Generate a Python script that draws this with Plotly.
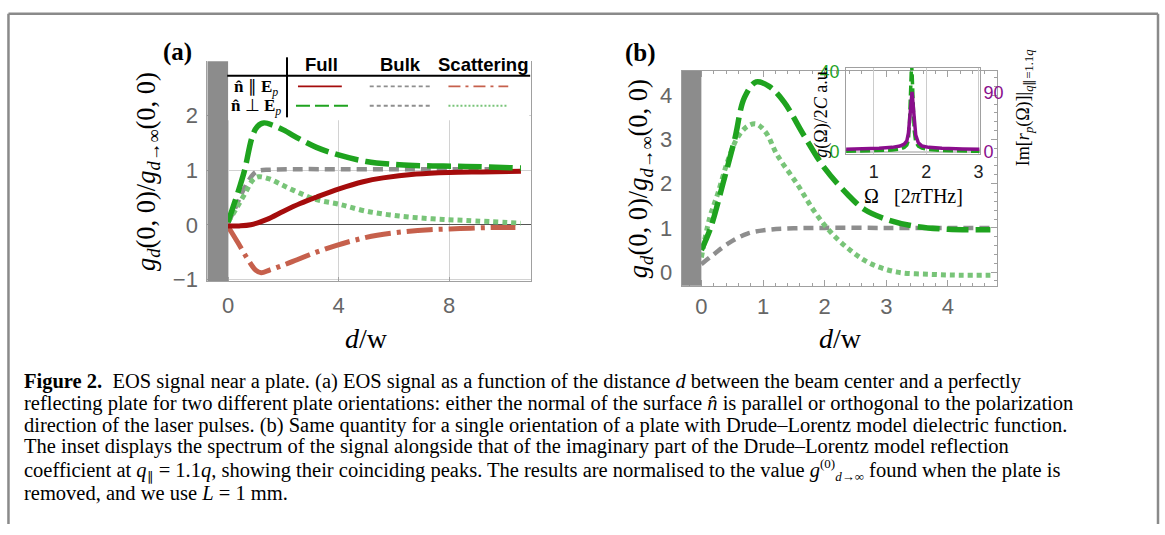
import plotly.graph_objects as go

W, H = 1165, 535
def px(x): return x / W
def py(y): return 1 - y / H

# ---------------- data: panel (a) ----------------
a_full_par_x = [0, 0.4, 0.82, 1.41, 2.01, 2.61, 3.21, 4.02, 4.89, 5.61, 6.81, 8.0, 9.2, 10.6]
a_full_par_y = [-0.02, -0.02, 0.0, 0.10, 0.25, 0.39, 0.51, 0.66, 0.79, 0.86, 0.93, 0.96, 0.97, 0.98]

a_full_perp_x = [0, 0.2, 0.4, 0.6, 0.88, 1.06, 1.3, 1.6, 2.0, 2.6, 3.2, 4.0, 5.0, 6.2, 7.4, 8.6, 10.6]
a_full_perp_y = [0.05, 0.35, 0.66, 1.0, 1.62, 1.80, 1.87, 1.83, 1.74, 1.57, 1.42, 1.28, 1.16, 1.10, 1.08, 1.07, 1.04]

a_bulk_x = [0, 0.3, 0.6, 0.9, 1.1, 1.5, 2.5, 4.0, 6.0, 8.0, 10.3]
a_bulk_y = [0.03, 0.35, 0.68, 0.92, 0.99, 1.01, 1.02, 1.02, 1.02, 1.02, 1.02]

a_scat_par_x = [0, 0.35, 0.7, 1.0, 1.2, 1.5, 2.0, 2.5, 3.2, 3.9, 4.6, 5.4, 6.3, 7.3, 8.4, 9.5, 10.4]
a_scat_par_y = [-0.03, -0.32, -0.62, -0.83, -0.88, -0.83, -0.74, -0.64, -0.50, -0.38, -0.28, -0.19, -0.13, -0.09, -0.07, -0.05, -0.05]

a_scat_perp_x = [0, 0.3, 0.6, 0.9, 1.1, 1.5, 2.0, 2.6, 3.2, 4.0, 5.0, 6.2, 7.4, 8.6, 10.6]
a_scat_perp_y = [0.05, 0.30, 0.56, 0.82, 0.88, 0.84, 0.72, 0.58, 0.46, 0.38, 0.25, 0.16, 0.11, 0.08, 0.03]

# ---------------- data: panel (b) ----------------
b_full_x = [0, 0.15, 0.35, 0.54, 0.70, 0.89, 1.1, 1.34, 1.66, 2.0, 2.37, 2.64, 2.99, 3.45, 4.0, 4.69]
b_full_y = [0.5, 1.0, 2.0, 3.0, 3.95, 4.3, 4.2, 3.85, 3.1, 2.35, 1.76, 1.42, 1.2, 1.04, 0.97, 0.96]

b_scat_x = [0, 0.13, 0.27, 0.43, 0.59, 0.75, 0.89, 1.05, 1.23, 1.56, 1.83, 2.1, 2.42, 2.75, 3.18, 3.72, 4.2, 4.69]
b_scat_y = [0.33, 1.2, 1.79, 2.52, 3.05, 3.3, 3.35, 3.15, 2.65, 1.98, 1.38, 0.9, 0.49, 0.19, 0.0, -0.05, -0.07, -0.07]

b_bulk_x = [0, 0.2, 0.45, 0.75, 1.1, 1.5, 2.0, 3.0, 4.0, 4.69]
b_bulk_y = [0.18, 0.40, 0.66, 0.87, 0.96, 0.99, 1.0, 1.0, 1.0, 1.0]

# ---------------- data: inset ----------------
inset_omega = [0.47, 0.8, 1.1, 1.35, 1.5, 1.58, 1.63, 1.66, 1.68, 1.70, 1.72, 1.73, 1.75, 1.77, 1.80, 1.85, 1.92, 2.05, 2.3, 2.7, 3.02]
inset_g = [0.4, 0.5, 0.7, 1.0, 1.5, 2.3, 3.5, 6, 14, 30, 44, 40, 24, 11, 5, 3, 2, 1.3, 0.8, 0.5, 0.4]
inset_im = [3, 3.5, 4.5, 6, 8, 11, 16, 28, 45, 72, 90, 92, 72, 45, 25, 13, 8, 6, 4.5, 3.5, 3]

# tick labels
a_xticks = [0, 4, 8]
a_yticks = [-1, 0, 1, 2]
a_yticktext = ["−1", "0", "1", "2"]
b_xticks = [0, 1, 2, 3, 4]
b_yticks = [0, 1, 2, 3, 4]
in_xticks = [1, 2, 3]
in_lyticks = [0, 40]
in_ryticks = [0, 90]

# colours
RED = "#a50c0c"
GREEN = "#1fa31f"
GRAY = "#8e8e8e"
SALMON = "#c6604c"
LGREEN = "#78c478"
PURPLE = "#8a0e8c"
BAR = "#8c8c8c"

fig = go.Figure()

def add(x, y, color, width, dash, xa, ya, shape="spline"):
    fig.add_trace(go.Scatter(x=x, y=y, mode="lines", xaxis=xa, yaxis=ya,
                             line=dict(color=color, width=width, dash=dash, shape=shape),
                             showlegend=False, hoverinfo="skip"))

# panel (a)
add(a_bulk_x, a_bulk_y, GRAY, 4.5, "10px,6px", "x", "y")
add(a_scat_perp_x, a_scat_perp_y, LGREEN, 5, "5px,4px", "x", "y")
add(a_scat_par_x, a_scat_par_y, SALMON, 5, "26px,6px,4px,6px", "x", "y")
add(a_full_par_x, a_full_par_y, RED, 5, "solid", "x", "y")
add(a_full_perp_x, a_full_perp_y, GREEN, 5.5, "24px,7px", "x", "y")

# panel (b)
add(b_bulk_x, b_bulk_y, GRAY, 4.5, "10px,6px", "x2", "y2")
add(b_scat_x, b_scat_y, LGREEN, 5, "5px,4px", "x2", "y2")
add(b_full_x, b_full_y, GREEN, 5.5, "22px,7px", "x2", "y2")

# inset
add(inset_omega, inset_g, GREEN, 3.5, "10px,4px", "x3", "y3", "linear")
add(inset_omega, inset_im, PURPLE, 3.5, "solid", "x3", "y4", "linear")

tickfont = dict(family="Liberation Sans, Arial", size=22, color="#666666")
axline = "#a0a0a0"

layout = dict(
    width=W, height=H, margin=dict(l=0, r=0, t=0, b=0),
    paper_bgcolor="white", plot_bgcolor="rgba(0,0,0,0)",
    xaxis=dict(domain=[px(208), px(533)], range=[-0.75, 10.97], anchor="y",
               tickvals=a_xticks, tickfont=tickfont, showgrid=True, gridcolor="#d2d2d2",
               zeroline=False, showline=True, linecolor=axline, mirror=False,
               ticks="inside", ticklen=4, tickcolor=axline, ticklabelstandoff=5),
    yaxis=dict(domain=[py(284), py(57)], range=[-1.03, 3.0], anchor="x",
               tickvals=a_yticks, ticktext=a_yticktext, tickfont=tickfont,
               showgrid=True, gridcolor="#d2d2d2", zeroline=True, zerolinecolor="#555555",
               zerolinewidth=1, showline=True, linecolor=axline, mirror=True,
               ticks="inside", ticklen=4, tickcolor=axline, ticklabelstandoff=4),
    xaxis2=dict(domain=[px(684), px(1000)], range=[-0.32, 4.79], anchor="y2",
                tickvals=b_xticks, tickfont=tickfont, showgrid=False, zeroline=False,
                showline=True, linecolor=axline, mirror="allticks",
                ticks="inside", ticklen=6, tickcolor=axline, ticklabelstandoff=1,
                minor=dict(dtick=0.2, tick0=0, ticks="inside", ticklen=3, tickcolor=axline)),
    yaxis2=dict(domain=[py(289), py(67)], range=[-0.31, 4.55], anchor="x2",
                tickvals=b_yticks, tickfont=tickfont, showgrid=False, zeroline=False,
                showline=True, linecolor=axline, mirror="allticks",
                ticks="inside", ticklen=6, tickcolor=axline, ticklabelstandoff=4,
                minor=dict(dtick=0.2, tick0=0, ticks="inside", ticklen=3, tickcolor=axline)),
    xaxis3=dict(domain=[px(849), px(983)], range=[0.47, 3.02], anchor="y3",
                tickvals=in_xticks, tickfont=dict(family="Liberation Sans, Arial", size=18, color="#222"),
                showgrid=True, gridcolor="#cccccc", zeroline=False, showline=True,
                linecolor=axline, mirror=True, ticks="", ticklabelstandoff=1),
    yaxis3=dict(domain=[py(153), py(64)], range=[-1, 42], anchor="x3",
                tickvals=in_lyticks, tickfont=dict(family="Liberation Sans, Arial", size=18, color=GREEN),
                showgrid=False, zeroline=True, zerolinecolor="#cccccc", showline=True,
                linecolor=axline, mirror=True, ticks="", ticklabelstandoff=2),
    yaxis4=dict(domain=[py(153), py(64)], range=[-4.5, 129], anchor="x3", overlaying="y3",
                side="right", tickvals=in_ryticks,
                tickfont=dict(family="Liberation Sans, Arial", size=18, color=PURPLE),
                showgrid=False, zeroline=False, showline=False, ticks="", ticklabelstandoff=3),
)
fig.update_layout(**layout)

shapes = []
# gray bars (d < 0)
shapes.append(dict(type="rect", xref="x", yref="y domain", x0=-0.75, x1=0, y0=0, y1=1,
                   fillcolor=BAR, line=dict(width=0), layer="above"))
shapes.append(dict(type="rect", xref="x2", yref="y2 domain", x0=-0.32, x1=0, y0=0, y1=1,
                   fillcolor=BAR, line=dict(width=0), layer="above"))
# legend table background for panel (a)
shapes.append(dict(type="rect", xref="paper", yref="paper", x0=px(229), x1=px(531),
                   y0=py(118), y1=py(50), fillcolor="white", line=dict(width=0), layer="above"))
shapes.append(dict(type="line", xref="paper", yref="paper", x0=px(228), x1=px(532),
                   y0=py(72), y1=py(72), line=dict(color="black", width=2), layer="above"))
shapes.append(dict(type="line", xref="paper", yref="paper", x0=px(288), x1=px(288),
                   y0=py(53), y1=py(115), line=dict(color="black", width=2), layer="above"))
# legend samples
def sample(x0, x1, y, color, dash, width=1.8):
    shapes.append(dict(type="line", xref="paper", yref="paper", x0=px(x0), x1=px(x1),
                       y0=py(y), y1=py(y), line=dict(color=color, width=width, dash=dash),
                       layer="above"))
sample(299, 343, 83, RED, "solid")
sample(371, 433, 83, GRAY, "4px,3px")
sample(450, 510, 83, SALMON, "12px,5px,3px,5px")
sample(297, 353, 103, GREEN, "14px,5px", 2.2)
sample(371, 433, 103, GRAY, "4px,3px")
sample(450, 510, 103, LGREEN, "2px,2px")
# outer frame of the figure
for (x0, y0, x1, y1) in [(8.5, 8, 8.5, 535), (8.5, 8, 1162, 8), (1162, 8, 1162, 535)]:
    shapes.append(dict(type="line", xref="paper", yref="paper", x0=px(x0), x1=px(x1),
                       y0=py(y0), y1=py(y1), line=dict(color="#8a8a8a", width=2.5), layer="above"))
fig.update_layout(shapes=shapes)

SERIF = "Liberation Serif, Times New Roman, serif"
SANS = "Liberation Sans, Arial, sans-serif"
ann = []
def text(x, y, s, size, family=SERIF, color="black", angle=0, xanchor="center"):
    ann.append(dict(x=px(x), y=py(y), xref="paper", yref="paper", text=s, showarrow=False,
                    font=dict(family=family, size=size, color=color), textangle=angle,
                    xanchor=xanchor, yanchor="middle"))

ytitle = "<i>g</i><sub><i>d</i></sub>(0, 0)/<i>g</i><sub><i>d</i>→∞</sub>(0, 0)"
text(148, 171, ytitle, 26.5, angle=-90)
text(643, 178, ytitle, 26.5, angle=-90)
text(368, 343, "<i>d</i>/w", 28)
text(843, 343, "<i>d</i>/w", 28)
text(178, 47, "<b>(a)</b>", 25)
text(643, 49, "<b>(b)</b>", 25)
# legend table text
text(323, 60, "<b>Full</b>", 18.5, SANS)
text(402, 60, "<b>Bulk</b>", 18.5, SANS)
text(485, 60, "<b>Scattering</b>", 18.5, SANS)
text(257, 85, "<b>n̂</b> ∥ <b>E</b><sub><i>p</i></sub>", 17)
text(257, 104, "<b>n̂</b> ⊥ <b>E</b><sub><i>p</i></sub>", 17)
# inset titles
text(824, 110, "<i>g</i>(Ω)/2<i>C</i> a.u.", 18, angle=-90)
text(1028, 105, "Im[<i>r</i><sub><i>p</i></sub>(Ω)]|<sub><i>q</i>∥=1.1<i>q</i></sub>", 18, angle=-90)
text(875, 196, "Ω", 20)
text(932, 196, "[2<i>π</i>THz]", 20)

# caption
SM = "<span style='font-size:13px'>{}</span>"
caption = [
    "<b>Figure 2.</b>  EOS signal near a plate. (a) EOS signal as a function of the distance <i>d</i> between the beam center and a perfectly",
    "reflecting plate for two different plate orientations: either the normal of the surface <i>n̂</i> is parallel or orthogonal to the polarization",
    "direction of the laser pulses. (b) Same quantity for a single orientation of a plate with Drude–Lorentz model dielectric function.",
    "The inset displays the spectrum of the signal alongside that of the imaginary part of the Drude–Lorentz model reflection",
    "coefficient at <i>q</i><sub>" + SM.format("∥") + "</sub> = 1.1<i>q</i>, showing their coinciding peaks. The results are normalised to the value <i>g</i><sup>"
    + SM.format("(0)") + "</sup><sub>" + SM.format("<i>d</i>→∞") + "</sub> found when the plate is",
    "removed, and we use <i>L</i> = 1 mm.",
]
cap_y = [388, 411, 433, 455, 479.5, 503]
for s, yy in zip(caption, cap_y):
    text(22, yy, s, 20.5, xanchor="left")

fig.update_layout(annotations=ann)
fig.write_html("out.html", config={"displayModeBar": False},
               post_script="document.body.style.margin='0';document.body.style.overflow='hidden';")
